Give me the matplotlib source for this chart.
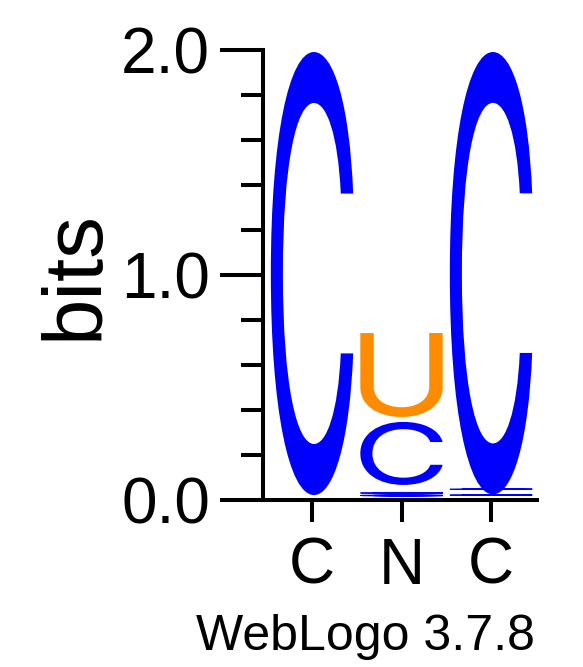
import matplotlib
matplotlib.use("Agg")
import matplotlib.pyplot as plt
from matplotlib.textpath import TextPath
from matplotlib.patches import PathPatch
from matplotlib.font_manager import FontProperties
from matplotlib.transforms import Affine2D

plt.rcParams['font.family'] = ['Liberation Sans', 'DejaVu Sans']

# logo data: one stack per position, letters listed bottom to top
# (letter, bottom of glyph in bits, glyph height in bits)
positions = [1, 2, 3]
tick_labels = ["C", "N", "C"]
stack_letters = [["C"], ["C", "C", "C", "U"], ["C", "C", "C"]]
stack_bottoms = [[0.022], [0.017, 0.028, 0.067, 0.369], [0.02, 0.046, 0.025]]
stack_heights = [[1.969], [0.006, 0.006, 0.280, 0.373], [0.004, 0.004, 1.966]]
letter_colors = {"C": "#0000ff", "U": "#ff8c00"}

fp = FontProperties(family="Inter")
glyph_width = 0.92


def draw_letter(ax, letter, x, y0, h, color):
    tp = TextPath((0, 0), letter, size=1, prop=fp)
    ext = tp.get_extents()
    tr = (Affine2D().translate(-ext.x0, -ext.y0)
          .scale(glyph_width / ext.width, h / ext.height)
          .translate(x - glyph_width / 2, y0))
    ax.add_patch(PathPatch(tr.transform_path(tp), facecolor=color,
                           edgecolor=color if h < 0.02 else "none", lw=0.6 if h < 0.02 else 0))


fig = plt.figure(figsize=(5.83, 6.67), dpi=100)
ax = fig.add_axes([266 / 583, 1 - 500 / 667, 271 / 583, 450 / 667])

for pos, letters, bottoms, heights in zip(positions, stack_letters, stack_bottoms, stack_heights):
    for letter, b, h in zip(letters, bottoms, heights):
        draw_letter(ax, letter, pos, b, h, letter_colors[letter])

ax.set_xlim(0.486, 3.514)
ax.set_ylim(0, 2.0)

for s in ["top", "right"]:
    ax.spines[s].set_visible(False)
ax.spines["left"].set_linewidth(2.9)
ax.spines["bottom"].set_linewidth(2.9)
ax.spines["left"].set_position(("outward", 2.2))

ax.set_yticks([0, 1, 2])
ax.set_yticklabels(["0.0", "1.0", "2.0"])
ax.set_yticks([0.2, 0.4, 0.6, 0.8, 1.2, 1.4, 1.6, 1.8], minor=True)
ax.tick_params(axis="y", which="major", length=31, width=2.9, labelsize=46, pad=7)
ax.tick_params(axis="y", which="minor", length=15.5, width=2.9)
ax.set_xticks(positions)
ax.set_xticklabels(tick_labels)
ax.tick_params(axis="x", which="major", length=16, width=2.9, labelsize=46, pad=10.5)
ax.tick_params(axis="x", which="minor", bottom=False)

ax.set_ylabel("bits", fontsize=60, labelpad=5)

fig.text(365 / 583, 1 - 650 / 667, "WebLogo 3.7.8", fontsize=36,
         ha="center", va="baseline")

fig.savefig("out.png", dpi=100)
